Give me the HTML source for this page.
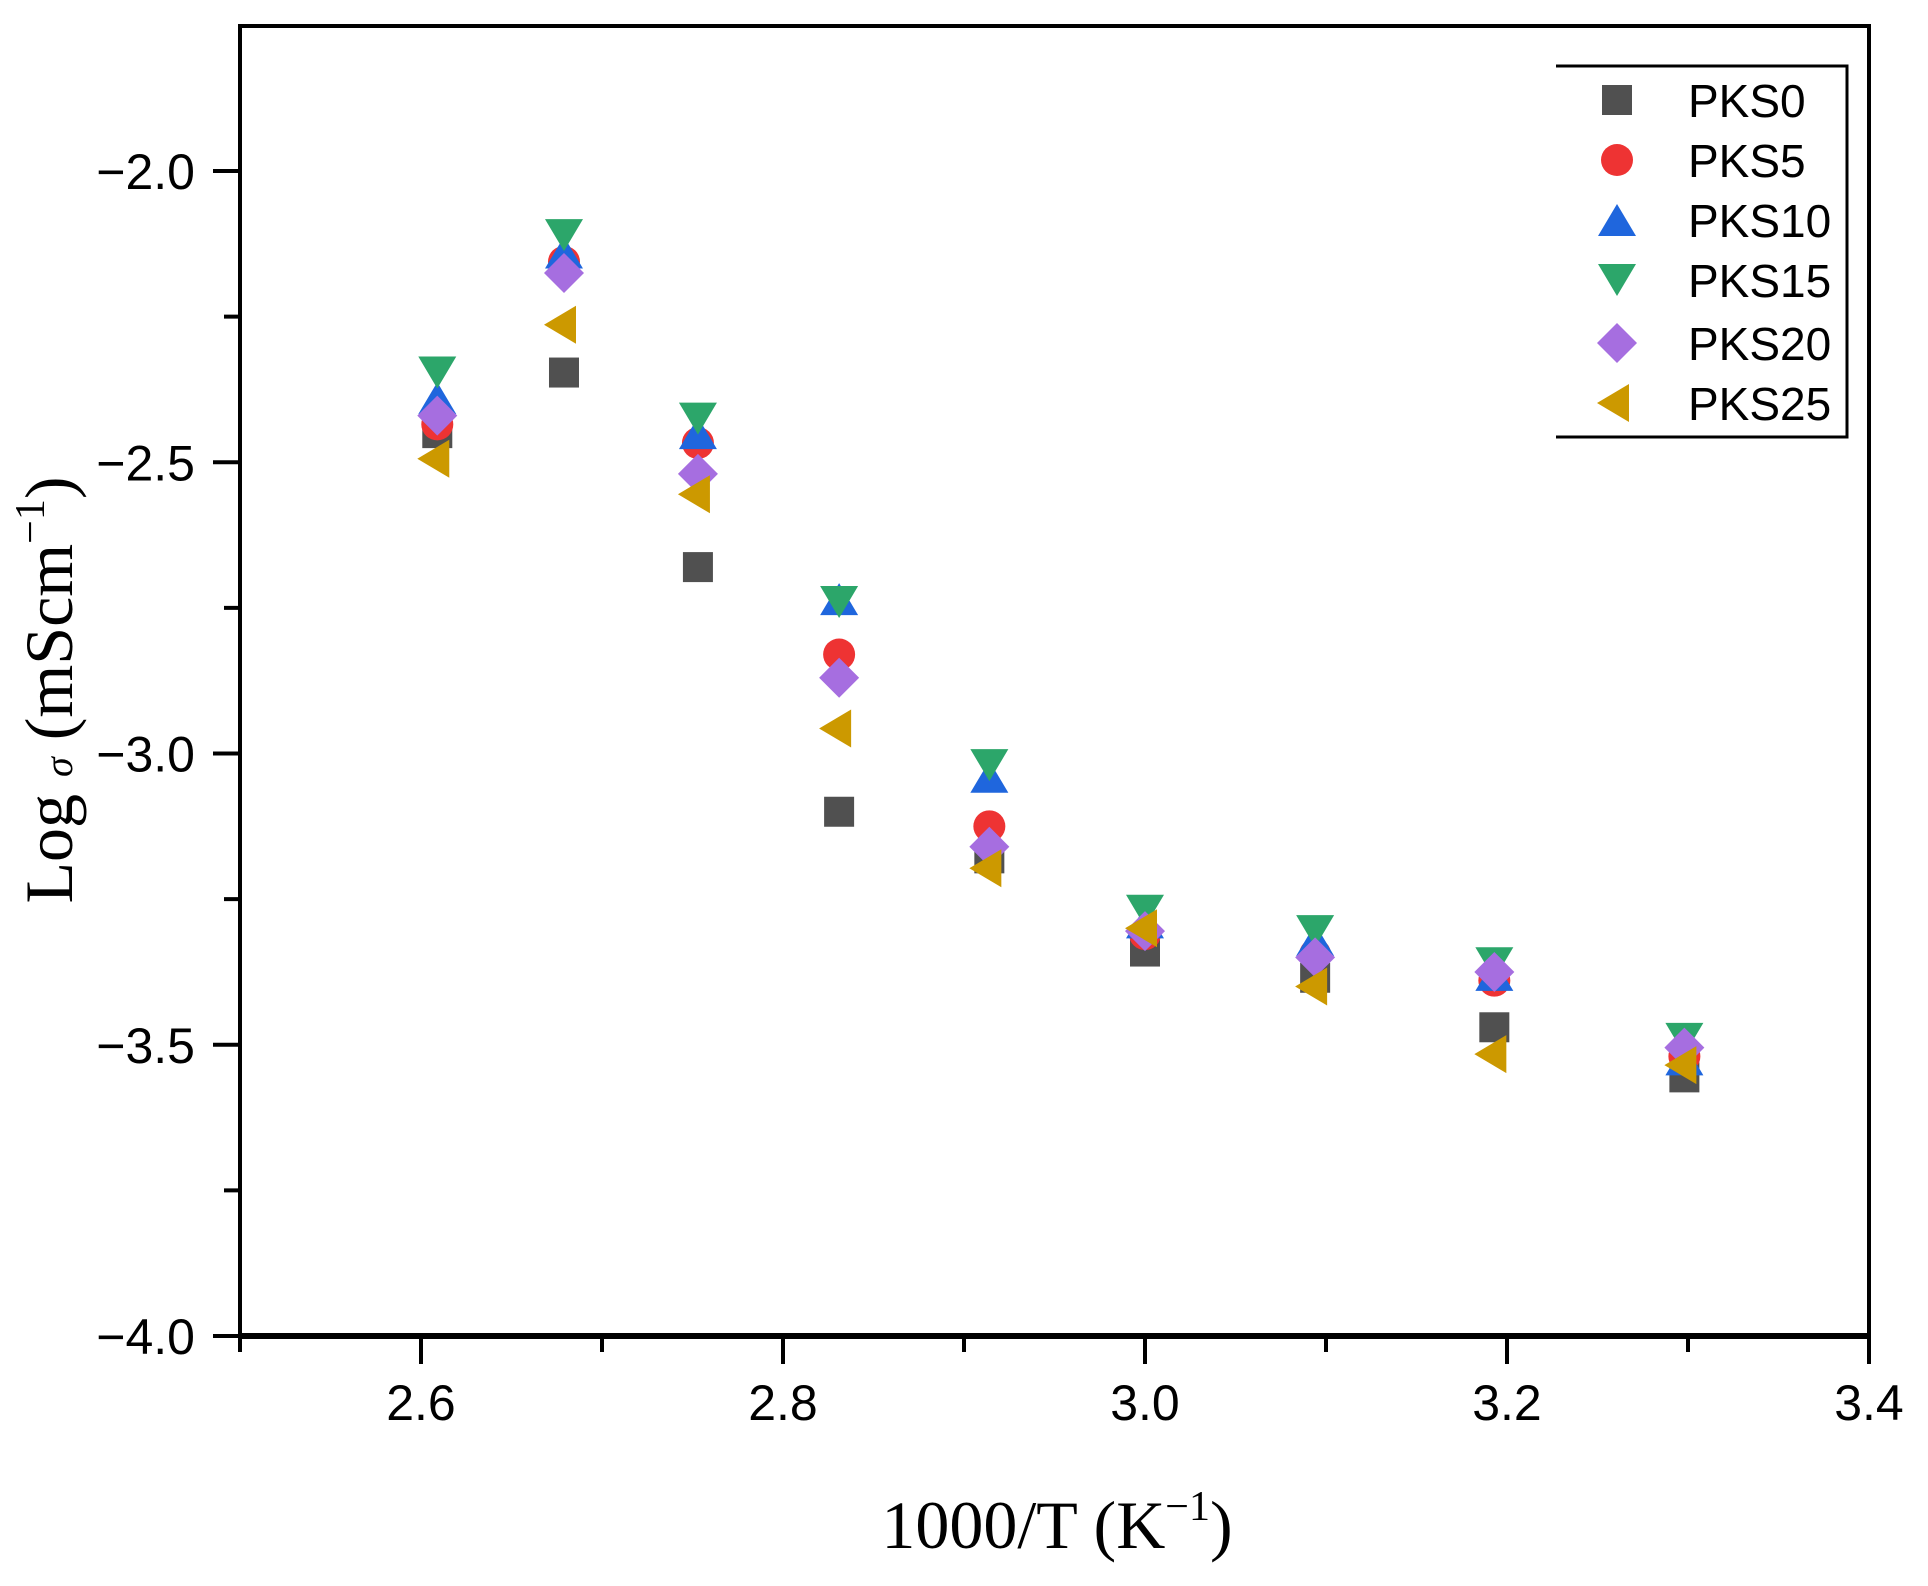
<!DOCTYPE html>
<html><head><meta charset="utf-8"><style>
html,body{margin:0;padding:0;background:#fff;}
svg{display:block;}
</style></head><body>
<svg id="s" width="1928" height="1586" viewBox="0 0 1928 1586" xmlns="http://www.w3.org/2000/svg">
<rect x="0" y="0" width="1928" height="1586" fill="#fff"/>
<g id="ax" stroke="#000" stroke-width="4" fill="none"></g>
<g id="pts"></g>
<g font-family="Liberation Sans, Arial, sans-serif" font-size="50" fill="#000" id="tl"></g>
<text x="1057" y="1548" font-family="Liberation Serif, serif" font-size="68" text-anchor="middle">1000/T (K<tspan font-size="42" dy="-28">−1</tspan><tspan dy="28">)</tspan></text>
<text transform="translate(72,690) rotate(-90)" font-family="Liberation Serif, serif" font-size="68" text-anchor="middle">Log <tspan font-style="italic" font-size="40">σ</tspan> (mScm<tspan font-size="42" dy="-28">−1</tspan><tspan dy="28">)</tspan></text>
<g id="leg"></g>
</svg>
<script>
var NS="http://www.w3.org/2000/svg";
function X(v){return 240+(v-2.5)*1810;}
function Y(v){return 171+(-2-v)*582.5;}
function el(p,t,a){var e=document.createElementNS(NS,t);for(var k in a)e.setAttribute(k,a[k]);p.appendChild(e);return e;}
var ax=document.getElementById('ax'),tl=document.getElementById('tl');
var L=240,R=1869,T=26,B=1336;
el(ax,'rect',{x:L,y:T,width:R-L,height:B-T});
el(ax,'line',{x1:L,y1:B,x2:R,y2:B,'stroke-width':6});
for(var i=0;i<=9;i++){var v=2.5+i*0.1,x=X(v),maj=(i%2==1);
 el(ax,'line',{x1:x,y1:B,x2:x,y2:B+(maj?28:16)});
 if(maj){var t=el(tl,'text',{x:x,y:1420,'text-anchor':'middle'});t.textContent=v.toFixed(1);}}
for(var j=0;j<=8;j++){var v=-2-j*0.25,y=Y(v),maj=(j%2==0);
 el(ax,'line',{x1:L,y1:y,x2:L-(maj?27:16),y2:y});
 if(maj){var t=el(tl,'text',{x:195,y:y+18,'text-anchor':'end'});t.textContent='−'+(-v).toFixed(1);}}
var xs=[2.609,2.679,2.753,2.831,2.914,3.0,3.094,3.193,3.298];
var S=[
 ['PKS0','#505050','sq',[-2.45,-2.346,-2.68,-3.10,-3.18,-3.34,-3.385,-3.47,-3.556]],
 ['PKS5','#ee3333','ci',[-2.435,-2.156,-2.467,-2.83,-3.125,-3.31,-3.345,-3.39,-3.52]],
 ['PKS10','#1f66dd','tu',[-2.39,-2.14,-2.45,-2.735,-3.04,-3.29,-3.32,-3.38,-3.525]],
 ['PKS15','#2ca66a','td',[-2.346,-2.11,-2.425,-2.74,-3.02,-3.27,-3.305,-3.36,-3.49]],
 ['PKS20','#a66ee0','di',[-2.42,-2.175,-2.52,-2.87,-3.16,-3.305,-3.35,-3.375,-3.505]],
 ['PKS25','#cc9900','tl',[-2.494,-2.264,-2.555,-2.957,-3.197,-3.30,-3.40,-3.516,-3.535]]];
function mk(p,type,x,y,c){var r=15;
 if(type=='sq')el(p,'rect',{x:x-r,y:y-r,width:2*r,height:2*r,fill:c});
 else if(type=='ci')el(p,'circle',{cx:x,cy:y,r:r+1,fill:c});
 else if(type=='tu')el(p,'polygon',{points:(x-19)+','+(y+16)+' '+(x+19)+','+(y+16)+' '+x+','+(y-16),fill:c});
 else if(type=='td')el(p,'polygon',{points:(x-19)+','+(y-16)+' '+(x+19)+','+(y-16)+' '+x+','+(y+16),fill:c});
 else if(type=='di')el(p,'polygon',{points:x+','+(y-20)+' '+(x+20)+','+y+' '+x+','+(y+20)+' '+(x-20)+','+y,fill:c});
 else el(p,'polygon',{points:(x+12)+','+(y-19)+' '+(x+12)+','+(y+19)+' '+(x-20)+','+y,fill:c});}
var pts=document.getElementById('pts');
S.forEach(function(s){s[3].forEach(function(v,i){mk(pts,s[2],X(xs[i]),Y(v),s[1]);});});
var lg=document.getElementById('leg');
el(lg,'polyline',{points:'1556,66 1847,66 1847,437 1556,437',fill:'none',stroke:'#000','stroke-width':3});
var ry=[100,160,220,280,343,403];
S.forEach(function(s,i){mk(lg,s[2],1617,ry[i],s[1]);
 var t=el(lg,'text',{x:1688,y:ry[i]+17,'font-family':'Liberation Sans, Arial, sans-serif','font-size':46});t.textContent=s[0];});
</script>
</body></html>
